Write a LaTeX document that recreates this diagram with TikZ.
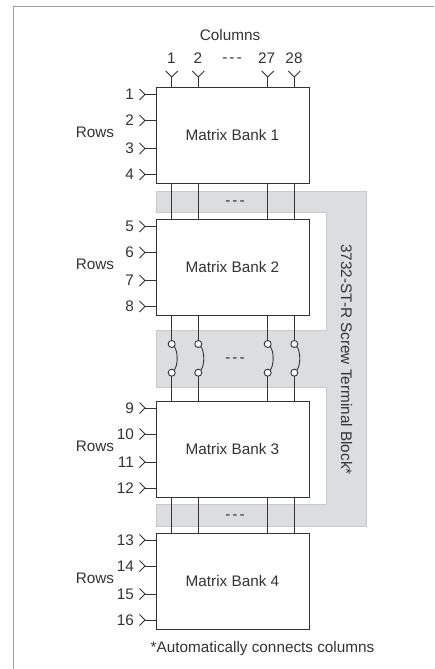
\documentclass[tikz,border=0pt]{standalone}
\usepackage{fontspec}
\setmainfont{Liberation Sans}
\definecolor{ink}{HTML}{333333}
\definecolor{band}{HTML}{DCDDDE}
\definecolor{bandedge}{HTML}{C8C9CA}
\definecolor{framec}{HTML}{A0A0A0}
\newcommand{\gapdots}{-\kern2pt-\kern2pt-}
\begin{document}
\begin{tikzpicture}[x=1pt,y=-1pt,
  bankbox/.style={draw=ink,fill=white,line width=1pt,minimum width=153pt,minimum height=96pt,inner sep=0pt,outer sep=0pt,text=ink,font=\fontsize{15.3}{17}\selectfont},
  wire/.style={draw=ink,line width=0.9pt},
  lbl/.style={text=ink,inner sep=0pt,font=\fontsize{15.3}{17}\selectfont},
  contact/.style={circle,draw=ink,fill=white,line width=0.9pt,minimum size=7pt,inner sep=0pt,outer sep=0pt}]
\useasboundingbox (0,0) rectangle (434,669);
\draw[framec,line width=1.4pt] (13.5,669) -- (13.5,6.5) -- (434,6.5);
\fill[band,draw=bandedge,line width=1pt] (156,191) -- (366,191) -- (366,526) -- (156,526) -- (156,504.5) -- (326.7,504.5) -- (326.7,387) -- (156,387) -- (156,330) -- (326.7,330) -- (326.7,212.5) -- (156,212.5) -- cycle;
\node[bankbox] (b1) at (232.5,135.5) {Matrix Bank 1};
\node[bankbox] (b2) at (232.5,267.5) {Matrix Bank 2};
\node[bankbox] (b3) at (232.5,449) {Matrix Bank 3};
\node[bankbox] (b4) at (232.5,581) {Matrix Bank 4};
\foreach \n/\x in {c1/171.7,c2/198.3,c3/267.7,c4/294.3}{
  \coordinate (\n) at (\x,0);
  \coordinate (\n top) at (\x,77);
  \draw[wire] (b1.north -| \n) -- (\n top);
  \draw[wire] ([shift={(-6,-6)}]\n top) -- (\n top) -- ([shift={(6,-6)}]\n top);
  \draw[wire] (b1.south -| \n) -- (b2.north -| \n);
  \draw[wire] (b3.south -| \n) -- (b4.north -| \n);
  \node[contact] (\n u) at (\x,344) {};
  \node[contact] (\n l) at (\x,372.7) {};
  \draw[wire] (b2.south -| \n) -- (\n u);
  \draw[wire] (\n l) -- (b3.north -| \n);
  \draw[wire] (\n u.south east) .. controls +(4,5) and +(4,-5) .. (\n l.north east);
}
\foreach \t/\s/\b in {87.5/1/b1,219.5/5/b2,401/9/b3,533/13/b4}{
  \foreach \o [count=\i from 0] in {7,33,61,87}{
    \pgfmathtruncatemacro{\num}{\s+\i}
    \coordinate (r\num) at (145,\t+\o);
    \draw[wire] (r\num) -- (r\num -| \b.west);
    \draw[wire] ([shift={(-5.5,-5.5)}]r\num) -- (r\num) -- ([shift={(-5.5,5.5)}]r\num);
    \node[lbl,anchor=east] at (134,\t+\o) {\num};
  }
}
\node[lbl] (colhead) at (230,35.5) {Columns};
\node[lbl] (n1) at (171.3,58) {1};
\node[lbl] (n2) at (198,58) {2};
\node[lbl] (n3) at (266.7,58) {27};
\node[lbl] (n4) at (294,58) {28};
\node[lbl] (ndots) at (232,60) {\gapdots};
\node[lbl] (d1) at (235,203) {\gapdots};
\node[lbl] (d2) at (235,360) {\gapdots};
\node[lbl] (d3) at (235,517) {\gapdots};
\node[lbl] (rw1) at (95,132.7) {Rows};
\node[lbl] (rw2) at (95,264) {Rows};
\node[lbl] (rw3) at (95,446) {Rows};
\node[lbl] (rw4) at (95,578) {Rows};
\node[lbl,rotate=-90] (tb) at (346.7,359.5) {3732-ST-R Screw Terminal Block*};
\node[lbl] (foot) at (262.5,648.5) {*Automatically connects columns};
\end{tikzpicture}
\end{document}
